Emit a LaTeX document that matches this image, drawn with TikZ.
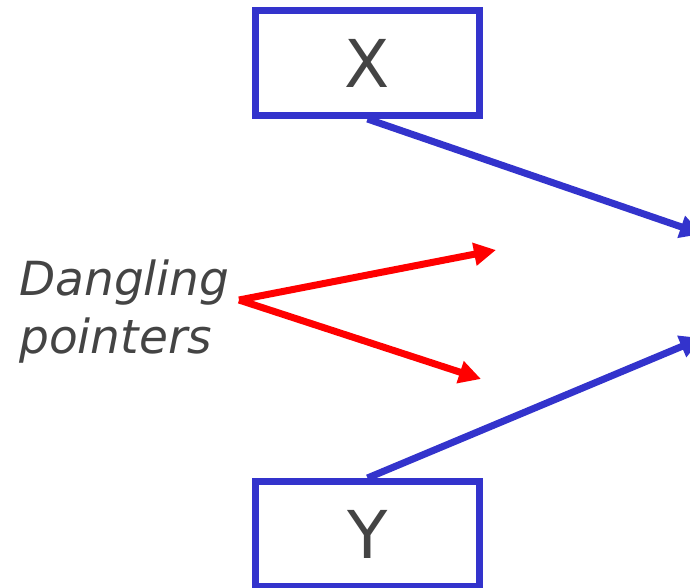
\documentclass[tikz,border=0pt]{standalone}
\usepackage{fontspec}
\setmainfont{DejaVu Sans}
\usetikzlibrary{arrows.meta}
\definecolor{boxblue}{RGB}{51,51,204}
\definecolor{txtgray}{RGB}{68,68,68}
\begin{document}
\begin{tikzpicture}[x=1pt,y=-1pt,
  varbox/.style={draw=boxblue,line width=7pt,minimum width=224pt,minimum height=105pt,inner sep=0pt,text=txtgray,font=\fontsize{66}{70}\selectfont},
  ptr/.style={draw=boxblue,line width=7pt,-{Triangle[length=22pt,width=22pt]}},
  dangle/.style={draw=red,line width=7pt,-{Triangle[length=22pt,width=22pt]}}]
\useasboundingbox (0,0) rectangle (690,588);
\node[varbox] (x) at (367.5,63) {X};
\node[varbox] (y) at (367.5,534) {Y};
\coordinate (xt) at (702,234);
\coordinate (yt) at (702,338);
\draw[ptr] (x.south) -- (xt);
\draw[ptr] (y.north) -- (yt);
\node[text=txtgray,font=\itshape\fontsize{47}{58}\selectfont,align=left,anchor=west,inner sep=0pt] (lbl) at (19,312) {Dangling\\pointers};
\coordinate (o) at (239,300);
\coordinate (d1) at (496,250);
\coordinate (d2) at (481,379);
\draw[dangle] (o) -- (d1);
\draw[dangle] (o) -- (d2);
\end{tikzpicture}
\end{document}
